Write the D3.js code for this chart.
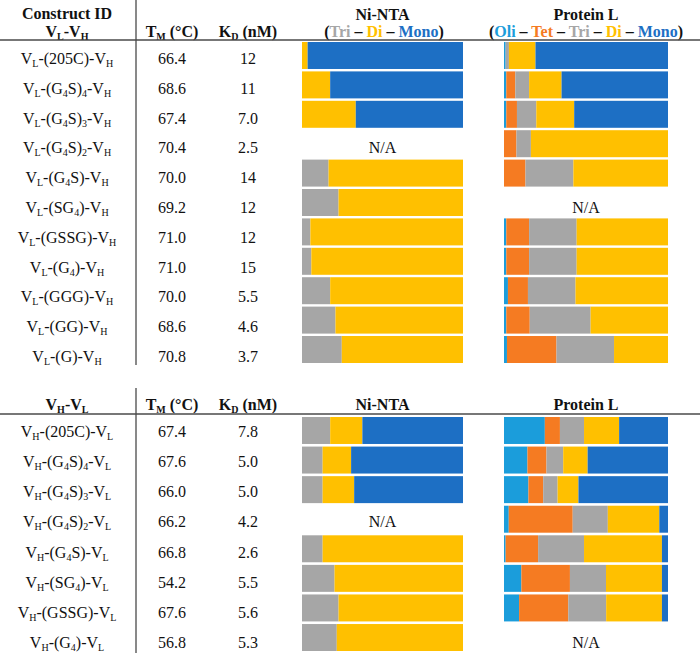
<!DOCTYPE html>
<html>
<head>
<meta charset="utf-8">
<script src="https://cdn.jsdelivr.net/npm/d3@7"></script>
<style>
  body { margin: 0; background: #fff; }
  svg { display: block; }
  svg text { font-family: "Liberation Serif", "Times New Roman", serif; }
  .hb { font-weight: bold; }
</style>
</head>
<body>
<svg id="chart" width="700" height="653"></svg>
<script>
// ---------- DATA ----------
// Labels use "_x" to mark a single subscript character.
const topConstructs = ["V_L-(205C)-V_H", "V_L-(G_4S)_4-V_H", "V_L-(G_4S)_3-V_H", "V_L-(G_4S)_2-V_H",
  "V_L-(G_4S)-V_H", "V_L-(SG_4)-V_H", "V_L-(GSSG)-V_H", "V_L-(G_4)-V_H", "V_L-(GGG)-V_H",
  "V_L-(GG)-V_H", "V_L-(G)-V_H"];
const topTm = ["66.4", "68.6", "67.4", "70.4", "70.0", "69.2", "71.0", "71.0", "70.0", "68.6", "70.8"];
const topKd = ["12", "11", "7.0", "2.5", "14", "12", "12", "15", "5.5", "4.6", "3.7"];
// Ni-NTA (% of bar), null = N/A
const topNiTri  = [0, 0, 0, null, 16.5, 22.7, 5.2, 5.8, 17.5, 20.8, 24.7];
const topNiDi   = [3.5, 17.5, 33.4, null, 83.5, 77.3, 94.8, 94.2, 82.5, 79.2, 75.3];
const topNiMono = [96.5, 82.5, 66.6, null, 0, 0, 0, 0, 0, 0, 0];
// Protein L
const topPlOli  = [1.0, 1.4, 1.4, 0, 0, null, 1.4, 1.4, 2.4, 1.4, 1.8];
const topPlTet  = [0, 5.5, 6.5, 7.6, 13.1, null, 13.9, 13.9, 12.2, 14.3, 30.2];
const topPlTri  = [2.0, 8.4, 11.8, 8.8, 29.2, null, 29.0, 29.0, 29.0, 37.1, 35.1];
const topPlDi   = [16.2, 19.8, 23.1, 83.6, 57.7, null, 55.7, 55.7, 56.4, 47.2, 32.9];
const topPlMono = [80.8, 64.9, 57.2, 0, 0, null, 0, 0, 0, 0, 0];

const botConstructs = ["V_H-(205C)-V_L", "V_H-(G_4S)_4-V_L", "V_H-(G_4S)_3-V_L", "V_H-(G_4S)_2-V_L",
  "V_H-(G_4S)-V_L", "V_H-(SG_4)-V_L", "V_H-(GSSG)-V_L", "V_H-(G_4)-V_L"];
const botTm = ["67.4", "67.6", "66.0", "66.2", "66.8", "54.2", "67.6", "56.8"];
const botKd = ["7.8", "5.0", "5.0", "4.2", "2.6", "5.5", "5.6", "5.3"];
const botNiTri  = [17.5, 12.8, 12.8, null, 12.8, 20.2, 22.7, 21.6];
const botNiDi   = [20.0, 17.7, 19.6, null, 87.2, 79.8, 77.3, 78.4];
const botNiMono = [62.5, 69.5, 67.6, null, 0, 0, 0, 0];
const botPlOli  = [24.9, 14.3, 14.9, 2.9, 1.0, 10.6, 9.2, null];
const botPlTet  = [9.2, 11.6, 9.0, 39.0, 19.8, 29.6, 30.0, null];
const botPlTri  = [14.7, 10.2, 8.8, 21.4, 28.0, 22.0, 23.1, null];
const botPlDi   = [21.4, 14.9, 12.7, 31.4, 47.5, 34.1, 34.0, null];
const botPlMono = [29.8, 49.0, 54.6, 5.3, 3.7, 3.7, 3.7, null];

const niKeys = ["Tri", "Di", "Mono"];
const plKeys = ["Oli", "Tet", "Tri", "Di", "Mono"];

// ---------- STYLE ----------
const colors = { Oli: "#1b9ddb", Tet: "#f57b22", Tri: "#a6a6a6", Di: "#ffc000", Mono: "#1d6fc4" };
const lineColor = "#4a4a4a";
const ink = "#111";

const svg = d3.select("#chart");

function richText(sel, str, size, subSize) {
  const segs = [];
  let buf = "";
  for (let i = 0; i < str.length; i++) {
    if (str[i] === "_" && i + 1 < str.length) {
      if (buf) { segs.push({ t: buf, sub: false }); buf = ""; }
      segs.push({ t: str[i + 1], sub: true });
      i++;
    } else buf += str[i];
  }
  if (buf) segs.push({ t: buf, sub: false });
  let shifted = false;
  segs.forEach(s => {
    const ts = sel.append("tspan").text(s.t);
    if (s.sub) {
      ts.attr("font-size", subSize);
      if (!shifted) { ts.attr("dy", 3); shifted = true; }
    } else {
      ts.attr("font-size", size);
      if (shifted) { ts.attr("dy", -3); shifted = false; }
    }
  });
}

function boldText(g, x, y, col) {
  return g.append("text").attr("x", x).attr("y", y).attr("text-anchor", "middle")
    .attr("class", "hb").attr("fill", col || ink);
}

function colorLegend(sel, keys) {
  const add = (t, c) => sel.append("tspan").text(t).attr("fill", c);
  add("(", ink);
  keys.forEach((k, i) => {
    if (i > 0) add(" – ", ink);
    add(k, colors[k]);
  });
  add(")", ink);
}

const colX = { id: 67, tm: 172, kd: 248 };
const niX = d3.scaleLinear().domain([0, 100]).range([302, 463]);
const plX = d3.scaleLinear().domain([0, 100]).range([504, 668]);

function buildRows(keys, arrays) {
  return arrays[0].map((_, i) => {
    if (arrays[0][i] === null) return null;
    const o = { idx: i };
    keys.forEach((k, j) => o[k] = arrays[j][i]);
    return o;
  });
}

function section(cfg) {
  const g = svg.append("g");
  const n = cfg.constructs.length;
  const band = d3.scaleBand().domain(d3.range(n)).range(cfg.barRange).paddingInner(cfg.pad).paddingOuter(0);
  const textY = d3.scalePoint().domain(d3.range(n)).range(cfg.textRange);

  // header
  if (cfg.headerId2) {
    boldText(g, colX.id, cfg.headerIdY1).attr("font-size", 16).text(cfg.headerId1);
    richText(boldText(g, colX.id, cfg.headerY2), cfg.headerId2, 16, 10);
  } else {
    richText(boldText(g, colX.id, cfg.headerY2), cfg.headerId1, 16, 10);
  }
  richText(boldText(g, colX.tm, cfg.headerY2), "T_M (°C)", 16, 10);
  richText(boldText(g, colX.kd, cfg.headerY2), "K_D (nM)", 16, 10);

  boldText(g, (niX.range()[0] + niX.range()[1]) / 2, cfg.headerY1).attr("font-size", 16).text("Ni-NTA");
  boldText(g, (plX.range()[0] + plX.range()[1]) / 2, cfg.headerY1).attr("font-size", 16).text("Protein L");
  if (cfg.legend) {
    colorLegend(boldText(g, 384, cfg.headerY2).attr("font-size", 16), niKeys);
    colorLegend(boldText(g, 586, cfg.headerY2).attr("font-size", 16), plKeys);
  }

  // lines
  g.append("line").attr("x1", 0).attr("x2", 700).attr("y1", cfg.hLineY).attr("y2", cfg.hLineY)
    .attr("stroke", lineColor).attr("stroke-width", 1.5);
  g.append("line").attr("x1", 136).attr("x2", 136).attr("y1", cfg.vLine[0]).attr("y2", cfg.vLine[1])
    .attr("stroke", lineColor).attr("stroke-width", 1.3);

  // row text
  cfg.constructs.forEach((c, i) => {
    const t = g.append("text").attr("x", colX.id).attr("y", textY(i)).attr("text-anchor", "middle").attr("fill", ink);
    richText(t, c, 16, 10);
    g.append("text").attr("x", colX.tm).attr("y", textY(i)).attr("text-anchor", "middle")
      .attr("font-size", 16).attr("fill", ink).text(cfg.tm[i]);
    g.append("text").attr("x", colX.kd).attr("y", textY(i)).attr("text-anchor", "middle")
      .attr("font-size", 16).attr("fill", ink).text(cfg.kd[i]);
  });

  // bars
  function drawBars(rows, keys, xs) {
    const valid = rows.filter(r => r !== null);
    const stacked = d3.stack().keys(keys)(valid);
    stacked.forEach(layer => {
      g.append("g").selectAll("rect").data(layer).join("rect")
        .attr("x", d => xs(d[0]))
        .attr("width", d => Math.max(0, xs(d[1]) - xs(d[0])))
        .attr("y", d => band(d.data.idx))
        .attr("height", band.bandwidth())
        .attr("fill", colors[layer.key]);
    });
    rows.forEach((r, i) => {
      if (r === null) {
        g.append("text").attr("x", (xs.range()[0] + xs.range()[1]) / 2).attr("y", textY(i))
          .attr("text-anchor", "middle").attr("font-size", 16).attr("fill", ink).text("N/A");
      }
    });
  }
  drawBars(buildRows(niKeys, cfg.ni), niKeys, niX);
  drawBars(buildRows(plKeys, cfg.pl), plKeys, plX);
}

section({
  constructs: topConstructs, tm: topTm, kd: topKd,
  ni: [topNiTri, topNiDi, topNiMono],
  pl: [topPlOli, topPlTet, topPlTri, topPlDi, topPlMono],
  barRange: [42, 363], pad: 0.082, textRange: [64, 362],
  headerId1: "Construct ID", headerId2: "V_L-V_H", headerIdY1: 19, headerY1: 20, headerY2: 37, legend: true,
  hLineY: 40, vLine: [0, 365]
});

section({
  constructs: botConstructs, tm: botTm, kd: botKd,
  ni: [botNiTri, botNiDi, botNiMono],
  pl: [botPlOli, botPlTet, botPlTri, botPlDi, botPlMono],
  barRange: [417, 651], pad: 0.088, textRange: [437, 648],
  headerId1: "V_H-V_L", headerId2: null, headerIdY1: 410, headerY1: 410, headerY2: 410, legend: false,
  hLineY: 414, vLine: [388, 653]
});
</script>
</body>
</html>
